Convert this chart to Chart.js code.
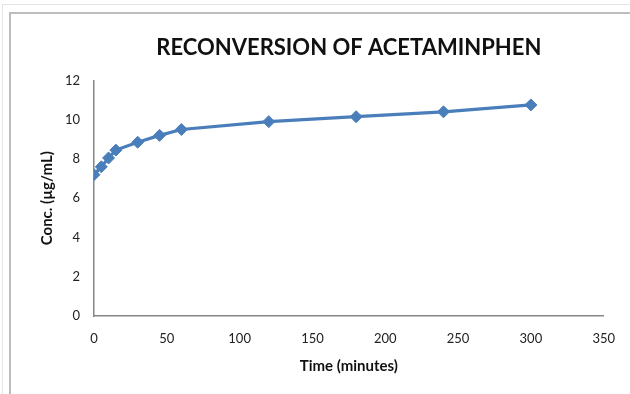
<!DOCTYPE html>
<html lang="en">
<head>
    <meta charset="UTF-8">
    <title>Reconversion of Acetaminphen</title>
    <script src="https://cdn.jsdelivr.net/npm/chart.js@4.4.0/dist/chart.umd.min.js"></script>
    <style>
        html, body { margin: 0; padding: 0; background: #ffffff; }
        .wrap { position: relative; width: 630px; height: 394px; }
        .frame-outer { position: absolute; left: 2px; top: 4px; width: 630px; height: 400px;
                       border-left: 1px solid #e4e4e4; border-top: 1px solid #e4e4e4; }
        .frame { position: absolute; left: 9px; top: 12px; width: 630px; height: 400px;
                 border-left: 2px solid #bdbdbd; border-top: 2px solid #bdbdbd; }
        canvas { position: absolute; left: 0; top: 0; }
    </style>
</head>
<body>
<div class="wrap">
    <div class="frame-outer"></div>
    <div class="frame"></div>
    <canvas id="chart" width="630" height="394"></canvas>
</div>
<script>
    // valores
    const timeMinutes = [0, 5, 10, 15, 30, 45, 60, 120, 180, 240, 300];
    const concValues = [7.2, 7.6, 8.05, 8.45, 8.85, 9.2, 9.5, 9.9, 10.15, 10.4, 10.75];
    const chartTitle = 'RECONVERSION OF ACETAMINPHEN';
    const xTitle = 'Time (minutes)';
    const yTitle = 'Conc. (\u00b5g/mL)';

    const points = timeMinutes.map((t, i) => ({ x: t, y: concValues[i] }));
    const fontFam = 'Lato, "Open Sans", sans-serif';
    const blue = '#4a7ebb';

    new Chart(document.getElementById('chart'), {
        type: 'line',
        data: {
            datasets: [{
                data: points,
                borderColor: blue,
                backgroundColor: blue,
                borderWidth: 3.2,
                tension: 0,
                pointStyle: 'rectRot',
                pointRadius: 6,
                pointBorderWidth: 1,
                fill: false
            }]
        },
        options: {
            responsive: false,
            animation: false,
            layout: { padding: { left: 30, right: 25, top: 0, bottom: 10 } },
            plugins: {
                legend: { display: false },
                tooltip: { enabled: false },
                title: {
                    display: true,
                    fullSize: false,
                    text: chartTitle,
                    color: '#111',
                    font: { family: fontFam, size: 22 },
                    padding: { top: 35, bottom: 19 }
                }
            },
            scales: {
                x: {
                    type: 'linear',
                    min: 0,
                    max: 350,
                    afterFit: s => { s.height = 68; },
                    grid: { display: false, drawTicks: false },
                    border: { display: true, color: '#868686', width: 1.5 },
                    ticks: { stepSize: 50, padding: 15, color: '#222', font: { family: fontFam, size: 13 } },
                    title: {
                        display: true, text: xTitle, color: '#111',
                        font: { family: fontFam, size: 15, weight: 'bold' },
                        padding: { top: 0, bottom: 9 }
                    }
                },
                y: {
                    min: 0,
                    max: 12,
                    afterFit: s => { s.width = 64; },
                    grid: { display: false, drawTicks: false },
                    border: { display: true, color: '#868686', width: 1.5 },
                    ticks: { stepSize: 2, padding: 14, color: '#222', font: { family: fontFam, size: 13 } },
                    title: {
                        display: true, text: yTitle, color: '#111',
                        font: { family: fontFam, size: 15, weight: 'bold' },
                        padding: { top: 8, bottom: 0 }
                    }
                }
            }
        }
    });
</script>
</body>
</html>
